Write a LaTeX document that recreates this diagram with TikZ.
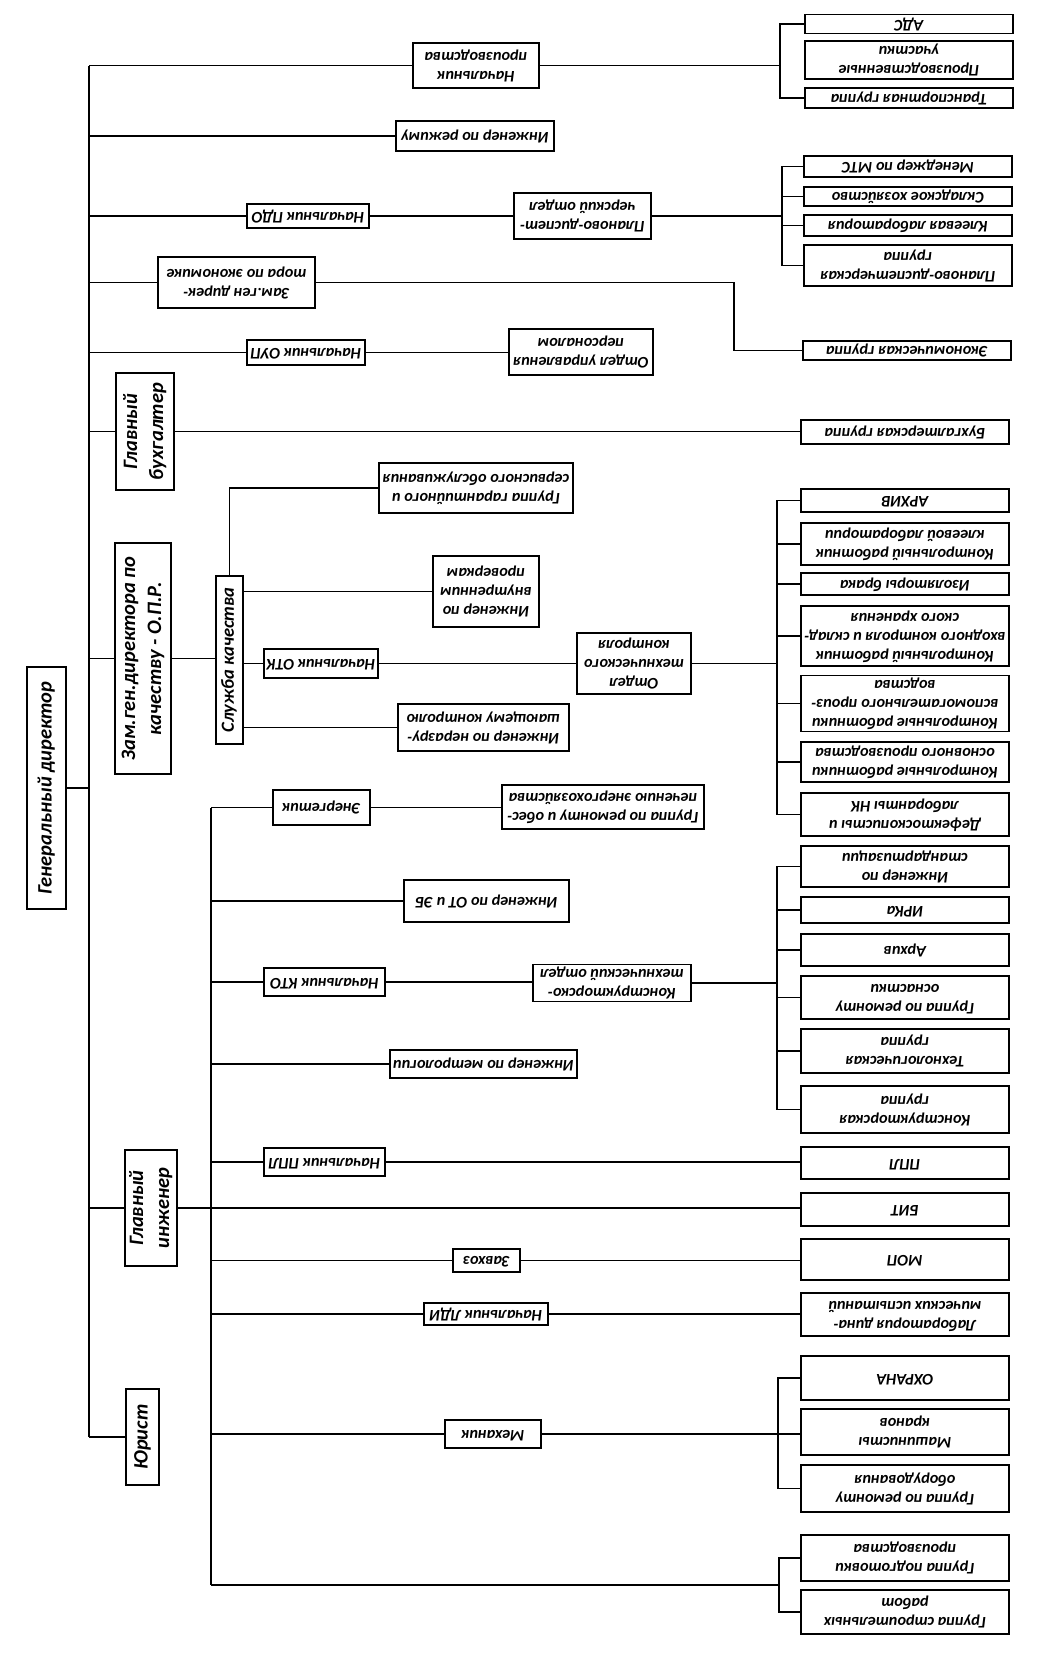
\documentclass[tikz,border=0pt]{standalone}
\usepackage{fontspec}
\setmainfont{Carlito}
\newcommand{\flipt}[1]{\rotatebox[origin=c]{180}{\begin{tabular}{@{}c@{}}#1\end{tabular}}}
\newcommand{\vtxt}[1]{\rotatebox[origin=c]{90}{\begin{tabular}{@{}c@{}}#1\end{tabular}}}
\tikzset{
  box/.style={draw, line width=1.1pt, inner sep=0pt, outer sep=0pt, font=\fontsize{16.2}{18.8}\selectfont\bfseries\itshape},
  bigbox/.style={box, font=\fontsize{20.5}{26}\selectfont\bfseries\itshape},
  conn/.style={line width=1.1pt}
}
% place box by left, top, right, bottom
\newcommand{\bx}[7][box]{\node[#1, minimum width=#5pt-#3pt, minimum height=#6pt-#4pt] (#2) at ({(#3+#5)/2},{(#4+#6)/2}) {#7};}
\begin{document}
\begin{tikzpicture}[x=1pt,y=-1pt]
\useasboundingbox (0,0) rectangle (1040,1660);
% ---------- right column
\bx{ads}{805}{15}{1013}{33}{\flipt{АДС}}
\bx{pu}{805}{41}{1013}{79}{\flipt{Производственные\\участки}}
\bx{tg}{805}{88}{1013}{108}{\flipt{Транспортная группа}}
\bx{mts}{804}{156}{1012}{177}{\flipt{Менеджер по МТС}}
\bx{skl}{804}{187}{1012}{206}{\flipt{Складское хозяйство}}
\bx{klab}{804}{215}{1012}{236}{\flipt{Клеевая лаборатория}}
\bx{pdg}{804}{245}{1012}{286}{\flipt{Планово-диспетчерская\\группа}}
\bx{eg}{803}{341}{1011}{360}{\flipt{Экономическая группа}}
\bx{bg}{801}{420}{1009}{444}{\flipt{Бухгалтерская группа}}
\bx{arh}{801}{489}{1009}{512}{\flipt{АРХИВ}}
\bx{krkl}{801}{523}{1009}{565}{\flipt{Контрольный работник\\клеевой лаборатории}}
\bx{izb}{801}{573}{1009}{595}{\flipt{Изоляторы брака}}
\bx{krvk}{801}{606}{1009}{666}{\flipt{Контрольный работник\\входного контроля и склад-\\ского хранения}}
\bx{krvp}{801}{676}{1009}{731}{\flipt{Контрольные работники\\вспомогательного произ-\\водства}}
\bx{krop}{801}{742}{1009}{782}{\flipt{Контрольные работники\\основного производства}}
\bx{def}{801}{793}{1009}{836}{\flipt{Дефектоскописты и\\лаборанты НК}}
\bx{ist}{801}{846}{1009}{887}{\flipt{Инженер по\\стандартизации}}
\bx{irka}{801}{897}{1009}{923}{\flipt{ИРКа}}
\bx{arh2}{801}{934}{1009}{966}{\flipt{Архив}}
\bx{gro}{801}{976}{1009}{1019}{\flipt{Группа по ремонту\\оснастки}}
\bx{tehg}{801}{1029}{1009}{1073}{\flipt{Технологическая\\группа}}
\bx{kg}{801}{1086}{1009}{1133}{\flipt{Конструкторская\\группа}}
\bx{ppl}{801}{1147}{1009}{1179}{\flipt{ППЛ}}
\bx{bit}{801}{1193}{1009}{1226}{\flipt{БИТ}}
\bx{mop}{801}{1239}{1009}{1280}{\flipt{МОП}}
\bx{ldi}{801}{1293}{1009}{1336}{\flipt{Лаборатория дина-\\мических испытаний}}
\bx{ohr}{801}{1356}{1009}{1400}{\flipt{ОХРАНА}}
\bx{mk}{801}{1409}{1009}{1455}{\flipt{Машинисты\\кранов}}
\bx{gro2}{801}{1465}{1009}{1512}{\flipt{Группа по ремонту\\оборудования}}
\bx{gpp}{801}{1535}{1009}{1581}{\flipt{Группа подготовки\\производства}}
\bx{gsr}{801}{1590}{1009}{1634}{\flipt{Группа строительных\\работ}}
% ---------- middle
\bx{np}{413}{43}{539}{88}{\flipt{Начальник\\производства}}
\bx{ipr}{396}{121}{554}{151}{\flipt{Инженер по режиму}}
\bx{npdo}{247}{204}{369}{228}{\flipt{Начальник ПДО}}
\bx{pdo}{514}{193}{651}{239}{\flipt{Планово-диспет-\\черский отдел}}
\bx{zge}{158}{257}{315}{308}{\flipt{Зам.ген дирек-\\тора по экономике}}
\bx{noup}{247}{340}{365}{365}{\flipt{Начальник ОУП}}
\bx{oup}{509}{329}{653}{375}{\flipt{Отдел управления\\персоналом}}
\bx[bigbox]{gb}{116}{373}{174}{490}{\vtxt{Главный\\бухгалтер}}
\bx[bigbox]{zgk}{115}{543}{171}{774}{\vtxt{Зам.ген.директора по\\качеству - О.П.Р.}}
\bx[box,font=\fontsize{18.5}{22}\selectfont\bfseries\itshape]{sk}{216}{576}{243}{744}{\vtxt{Служба качества}}
\bx{ggo}{379}{463}{573}{513}{\flipt{Группа гарантийного и\\сервисного обслуживания}}
\bx{ivp}{433}{556}{539}{627}{\flipt{Инженер по\\внутренним\\проверкам}}
\bx{notk}{264}{649}{378}{678}{\flipt{Начальник ОТК}}
\bx{otk}{577}{633}{691}{694}{\flipt{Отдел\\технического\\контроля}}
\bx{inr}{398}{704}{569}{751}{\flipt{Инженер по неразру-\\шающему контролю}}
\bx[bigbox]{gd}{27}{667}{66}{909}{\vtxt{Генеральный директор}}
\bx{en}{273}{790}{370}{825}{\flipt{Энергетик}}
\bx{gre}{502}{785}{704}{829}{\flipt{Группа по ремонту и обес-\\печению энергохозяйства}}
\bx{iot}{404}{880}{569}{922}{\flipt{Инженер по ОТ и ЭБ}}
\bx{nkto}{264}{968}{385}{996}{\flipt{Начальник КТО}}
\bx{kto}{533}{965}{691}{1001}{\flipt{Конструкторско-\\технический отдел}}
\bx{imet}{390}{1050}{577}{1078}{\flipt{Инженер по метрологии}}
\bx{nppl}{264}{1148}{385}{1176}{\flipt{Начальник ППЛ}}
\bx[bigbox]{gi}{126}{1150}{176}{1266}{\vtxt{Главный\\инженер}}
\bx{zx}{453}{1249}{520}{1272}{\flipt{Завхоз}}
\bx{nldi}{424}{1303}{548}{1325}{\flipt{Начальник ЛДИ}}
\bx{meh}{445}{1420}{541}{1448}{\flipt{Механик}}
\bx[bigbox]{yur}{126}{1389}{159}{1485}{\vtxt{Юрист}}
% ---------- coordinates for trunks and brackets
\coordinate (trunk) at (89,0);
\coordinate (tt) at (211,0);
\coordinate (t2bot) at (211,1585);
\coordinate (b1) at (780,0);
\coordinate (b2) at (782,0);
\coordinate (ebend) at (734,0);
\coordinate (b3) at (777,0);
\coordinate (b4) at (777,0);
\coordinate (b5) at (778,0);
\coordinate (b6m) at (779,1585);
% ---------- connectors
\begin{scope}[conn]
\draw (np.west -| trunk) -- (yur.west -| trunk);
\foreach \n in {np,ipr,npdo,zge,noup,gb,zgk,yur,gi}{\draw (\n.west) -- (\n.west -| trunk);}
\draw (gd.east) -- (gd.east -| trunk);
% production
\draw (np.east) -- (np.east -| b1);
\draw (ads.west) -- (ads.west -| b1) -- (tg.west -| b1) -- (tg.west);
% PDO
\draw (npdo.east) -- (npdo.east -| pdo.west);
\draw (pdo.east) -- (pdo.east -| b2);
\draw (mts.west) -- (mts.west -| b2) -- (pdg.west -| b2) -- (pdg.west);
\foreach \n in {skl,klab}{\draw (\n.west) -- (\n.west -| b2);}
% economics
\draw (zge.east) -- (zge.east -| ebend) -- (eg.west -| ebend) -- (eg.west);
% OUP
\draw (noup.east) -- (noup.east -| oup.west);
% accounting
\draw (gb.east) -- (gb.east -| bg.west);
% quality
\draw (zgk.east) -- (zgk.east -| sk.west);
\draw (sk.north) |- (ggo.west);
\foreach \n in {ivp,notk,inr}{\draw (\n.west) -- (\n.west -| sk.east);}
\draw (notk.east) -- (notk.east -| otk.west);
\draw (otk.east) -- (otk.east -| b3);
\draw (arh.west) -- (arh.west -| b3) -- (def.west -| b3) -- (def.west);
\foreach \n in {krkl,izb,krvk,krvp,krop}{\draw (\n.west) -- (\n.west -| b3);}
% chief engineer
\draw (gi.east) -- (gi.east -| bit.west);
\draw (en.west -| tt) -- (t2bot);
\foreach \n in {en,iot,nkto,imet,nppl,zx,nldi,meh}{\draw (\n.west) -- (\n.west -| tt);}
\draw (en.east) -- (en.east -| gre.west);
\draw (nkto.east) -- (nkto.east -| kto.west);
\draw (kto.east) -- (kto.east -| b4);
\draw (ist.west) -- (ist.west -| b4) -- (kg.west -| b4) -- (kg.west);
\foreach \n in {irka,arh2,gro,tehg}{\draw (\n.west) -- (\n.west -| b4);}
\draw (nppl.east) -- (nppl.east -| ppl.west);
\draw (zx.east) -- (zx.east -| mop.west);
\draw (nldi.east) -- (nldi.east -| ldi.west);
\draw (meh.east) -- (meh.east -| mk.west);
\draw (ohr.west) -- (ohr.west -| b5) -- (gro2.west -| b5) -- (gro2.west);
\draw (t2bot) -- (b6m);
\draw (gpp.west) -- (gpp.west -| b6m) -- (gsr.west -| b6m) -- (gsr.west);
\end{scope}
\end{tikzpicture}
\end{document}
